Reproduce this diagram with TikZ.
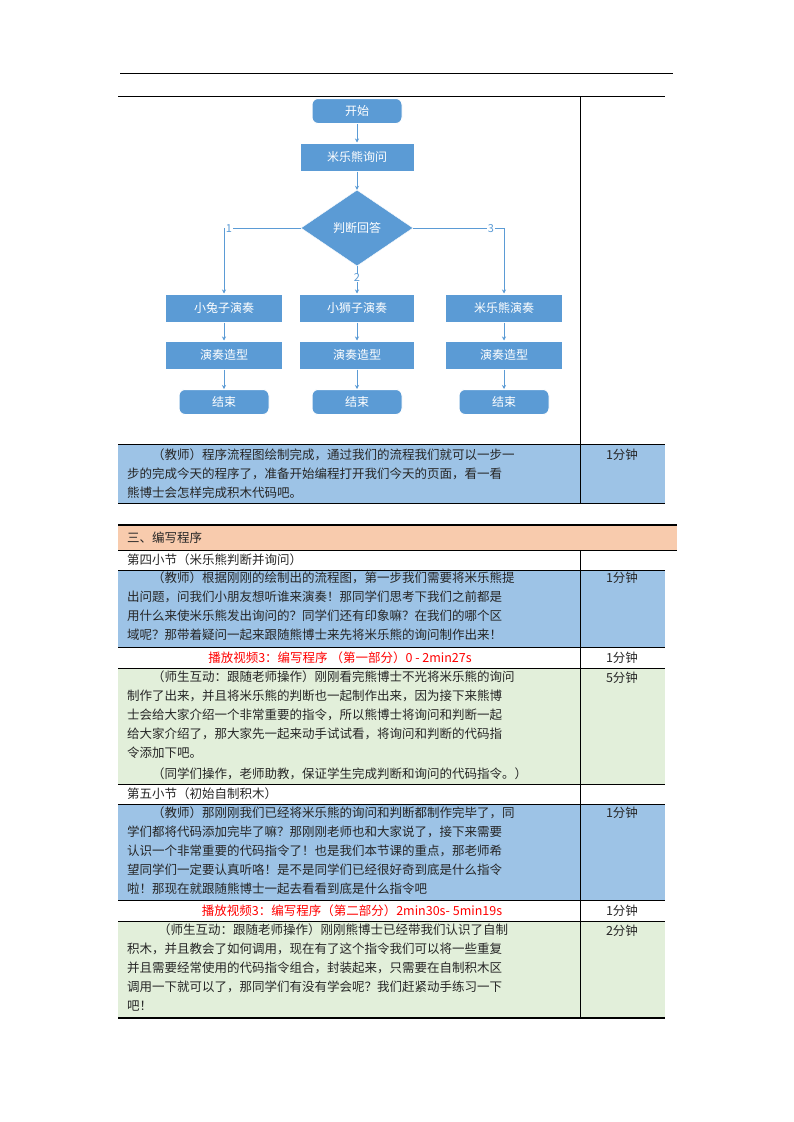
\documentclass[tikz,border=0pt]{standalone}
\usepackage{fontspec}
\setmainfont{Noto Sans CJK SC}
\usetikzlibrary{shapes.geometric,arrows.meta}
\definecolor{fb}{HTML}{5B9BD5}
\definecolor{rb}{HTML}{9DC3E6}
\definecolor{rg}{HTML}{E2EFDA}
\definecolor{ro}{HTML}{F8CBAD}
\definecolor{lc}{HTML}{5B9BD5}
\begin{document}
\begin{tikzpicture}[x=1pt,y=-1pt,
 fx/.style={fill=fb,draw=white,line width=1pt,text=white,font=\fontsize{12}{14}\selectfont,minimum height=28pt,inner sep=0pt},
 rr/.style={fx,rounded corners=6pt,minimum height=25pt},
 ar/.style={draw=lc,line width=0.8pt,-{Stealth[length=4pt,width=4pt]}},
 tx/.style={anchor=west,inner sep=0pt,font=\fontsize{12.5}{14}\selectfont,text=black!85},
 mn/.style={anchor=center,inner sep=0pt,font=\fontsize{12.5}{14}\selectfont,text=black!85},
 rd/.style={anchor=center,inner sep=0pt,font=\fontsize{12.5}{14}\selectfont,text=red}]
\useasboundingbox (0,0) rectangle (794,1122);
% top rule
\draw[line width=0.6pt] (120,73) -- (673,73);
% table 1
\fill[rb] (118,444) rectangle (665,503);
\draw[line width=0.8pt] (118,96) -- (665,96);
\draw[line width=0.8pt] (580,96) -- (580,503);
\draw[line width=0.8pt] (118,444) -- (665,444);
\draw[line width=0.8pt] (118,503) -- (665,503);
\node[tx] (t1a) at (152,455) {（教师）程序流程图绘制完成，通过我们的流程我们就可以一步一};
\node[tx] (t1b) at (127,474) {步的完成今天的程序了，准备开始编程打开我们今天的页面，看一看};
\node[tx] (t1c) at (127,493) {熊博士会怎样完成积木代码吧。};
\node[mn] (m1) at (622,455) {1分钟};
% flowchart
\node[rr,minimum width=90pt] (s) at (357,111) {开始};
\node[fx,minimum width=114pt] (q) at (357,157) {米乐熊询问};
\node[diamond,aspect=1.5,fill=fb,draw=white,text=white,font=\fontsize{12}{14}\selectfont,minimum width=112pt,minimum height=76pt,inner sep=0pt] (d) at (357,228) {判断回答};
\node[fx,minimum width=117pt] (a1) at (224,308) {小兔子演奏};
\node[fx,minimum width=115pt] (a2) at (357,308) {小狮子演奏};
\node[fx,minimum width=117pt] (a3) at (504,308) {米乐熊演奏};
\node[fx,minimum width=117pt] (b1) at (224,355) {演奏造型};
\node[fx,minimum width=115pt] (b2) at (357,355) {演奏造型};
\node[fx,minimum width=117pt] (b3) at (504,355) {演奏造型};
\node[rr,minimum width=90pt] (e1) at (224,402) {结束};
\node[rr,minimum width=90pt] (e2) at (357,402) {结束};
\node[rr,minimum width=90pt] (e3) at (504,402) {结束};
\draw[ar] (s) -- (q);
\draw[ar] (q) -- (d);
\draw[ar] (d.west) -- (224,228) -- (a1);
\draw[ar] (d.east) -- (504,228) -- (a3);
\draw[ar] (d) -- (a2);
\foreach \i in {1,2,3}{\draw[ar] (a\i) -- (b\i); \draw[ar] (b\i) -- (e\i);}
\node[font=\fontsize{11}{12}\selectfont,text=lc,fill=white,inner sep=0.5pt] (l1) at (229,229) {1};
\node[font=\fontsize{11}{12}\selectfont,text=lc,fill=white,inner sep=0.5pt] (l3) at (491,229) {3};
\node[font=\fontsize{11}{12}\selectfont,text=lc,fill=white,inner sep=0.5pt] (l2) at (357,278) {2};
% table 2
\fill[ro] (118,525) rectangle (677,550);
\fill[rb] (118,570) rectangle (665,647);
\fill[rg] (118,668) rectangle (665,784);
\fill[rb] (118,804) rectangle (665,900);
\fill[rg] (118,921) rectangle (665,1018);
\draw[line width=1.6pt] (118,525) -- (677,525);
\draw[line width=0.8pt] (118,550) -- (677,550);
\foreach \yy in {570,647,668,784,804,900,921}{\draw[line width=0.8pt] (118,\yy) -- (665,\yy);}
\draw[line width=1.6pt] (118,1018) -- (665,1018);
\draw[line width=0.8pt] (580,550) -- (580,1018);
\node[tx] (h) at (127,538) {三、编写程序};
\node[tx] (s4) at (127,560) {第四小节（米乐熊判断并询问）};
\node[tx] (p1a) at (152,578) {（教师）根据刚刚的绘制出的流程图，第一步我们需要将米乐熊提};
\node[tx] (p1b) at (127,597) {出问题，问我们小朋友想听谁来演奏！那同学们思考下我们之前都是};
\node[tx] (p1c) at (127,616) {用什么来使米乐熊发出询问的？同学们还有印象嘛？在我们的哪个区};
\node[tx] (p1d) at (127,635) {域呢？那带着疑问一起来跟随熊博士来先将米乐熊的询问制作出来！};
\node[mn] (m2) at (622,578) {1分钟};
\node[rd] (v1) at (340,658) {播放视频3：编写程序 （第一部分）0 - 2min27s};
\node[mn] (m3) at (622,658) {1分钟};
\node[tx] (p2a) at (152,677) {（师生互动：跟随老师操作）刚刚看完熊博士不光将米乐熊的询问};
\node[tx] (p2b) at (127,696) {制作了出来，并且将米乐熊的判断也一起制作出来，因为接下来熊博};
\node[tx] (p2c) at (127,715) {士会给大家介绍一个非常重要的指令，所以熊博士将询问和判断一起};
\node[tx] (p2d) at (127,734) {给大家介绍了，那大家先一起来动手试试看，将询问和判断的代码指};
\node[tx] (p2e) at (127,753) {令添加下吧。};
\node[tx] (p2f) at (152,774) {（同学们操作，老师助教，保证学生完成判断和询问的代码指令。）};
\node[mn] (m4) at (622,678) {5分钟};
\node[tx] (s5) at (127,794) {第五小节（初始自制积木）};
\node[tx] (p3a) at (152,813) {（教师）那刚刚我们已经将米乐熊的询问和判断都制作完毕了，同};
\node[tx] (p3b) at (127,832) {学们都将代码添加完毕了嘛？那刚刚老师也和大家说了，接下来需要};
\node[tx] (p3c) at (127,851) {认识一个非常重要的代码指令了！也是我们本节课的重点，那老师希};
\node[tx] (p3d) at (127,870) {望同学们一定要认真听咯！是不是同学们已经很好奇到底是什么指令};
\node[tx] (p3e) at (127,889) {啦！那现在就跟随熊博士一起去看看到底是什么指令吧};
\node[mn] (m5) at (622,813) {1分钟};
\node[rd] (v2) at (352,911) {播放视频3：编写程序（第二部分）2min30s- 5min19s};
\node[mn] (m6) at (622,911) {1分钟};
\node[tx] (p4a) at (158,930) {（师生互动：跟随老师操作）刚刚熊博士已经带我们认识了自制};
\node[tx] (p4b) at (127,949) {积木，并且教会了如何调用，现在有了这个指令我们可以将一些重复};
\node[tx] (p4c) at (127,968) {并且需要经常使用的代码指令组合，封装起来，只需要在自制积木区};
\node[tx] (p4d) at (127,987) {调用一下就可以了，那同学们有没有学会呢？我们赶紧动手练习一下};
\node[tx] (p4e) at (127,1006) {吧！};
\node[mn] (m7) at (622,931) {2分钟};
\end{tikzpicture}
\end{document}
